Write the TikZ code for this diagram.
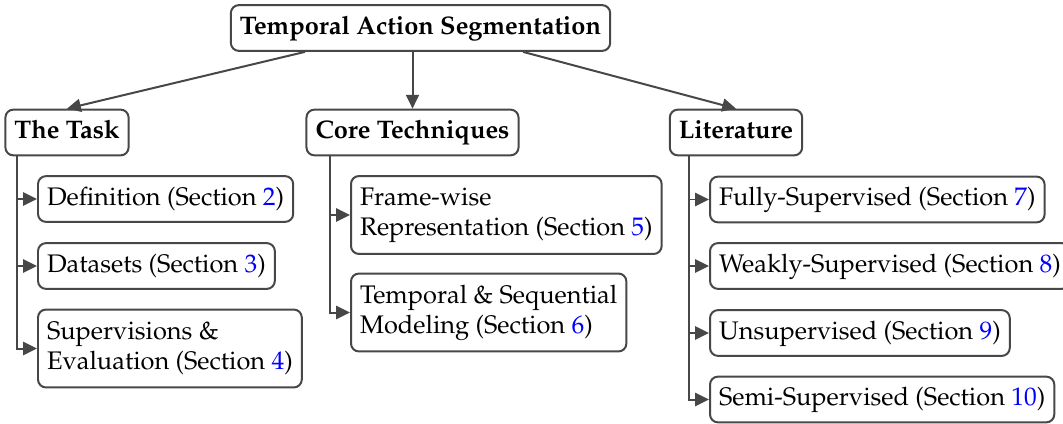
\documentclass[tikz,border=0pt]{standalone}
\usepackage[T1]{fontenc}
\usepackage{mathpazo}
\usetikzlibrary{arrows.meta,calc}
\definecolor{edgegray}{HTML}{474747}
\definecolor{secblue}{HTML}{0000FF}
\newcommand{\secref}[1]{(Section~\textcolor{secblue}{#1})}
\tikzset{
  base/.style={draw=edgegray, line width=0.75pt, rounded corners=3pt, fill=white,
    inner xsep=3.4pt, align=left, font=\fontsize{9.55}{11.3}\selectfont},
  one/.style={base, inner ysep=3.8pt, text height=7.1pt, text depth=2.5pt},
  two/.style={base, inner ysep=2pt, minimum height=29.3pt},
  head/.style={one, font=\fontsize{9.55}{11.3}\selectfont\bfseries},
  arr/.style={draw=edgegray, line width=0.75pt, -{Triangle[length=5.2pt,width=4.9pt]}},
}
\begin{document}
\begin{tikzpicture}[x=0.376pt, y=-0.376pt]
\useasboundingbox (0,0) rectangle (1063,424);

% top level and the three branches
\node[head] (root) at (420.5,28) {Temporal Action Segmentation};
\node[head] (task) at (67,132.5) {The Task};
\node[head] (core) at (412.5,132.5) {Core Techniques};
\node[head] (lit)  at (736,132.5) {Literature};

% The Task
\node[one, anchor=west] (def)  at (37,199)   {Definition \secref{2}};
\node[one, anchor=west] (data) at (37,266)   {Datasets \secref{3}};
\node[two, anchor=west] (sup)  at (37,348.5) {Supervisions \&\\Evaluation \secref{4}};

% Core Techniques
\node[two, anchor=west] (frame) at (350,215)   {Frame-wise\\Representation \secref{5}};
\node[two, anchor=west] (tseq)  at (350,312.5) {Temporal \& Sequential\\Modeling \secref{6}};

% Literature
\node[one, anchor=west] (fully)  at (709,199.5) {Fully-Supervised \secref{7}};
\node[one, anchor=west] (weakly) at (709,266)   {Weakly-Supervised \secref{8}};
\node[one, anchor=west] (unsup)  at (709,333)   {Unsupervised \secref{9}};
\node[one, anchor=west] (semi)   at (709,399.5) {Semi-Supervised \secref{10}};

% root to branches
\draw[arr] ($(root.south)+(-115.5,0)$) -- (task.north);
\draw[arr] (root.south -| core.north) -- (core.north);
\draw[arr] ($(root.south)+(102.5,0)$) -- (lit.north);

% trunks down the left side of each branch
\coordinate (tk) at ($(def.west)+(-20,0)$);
\coordinate (ck) at ($(frame.west)+(-20,0)$);
\coordinate (lk) at ($(fully.west)+(-20,0)$);
\foreach \c in {def,data,sup} \draw[arr] (tk |- task.south) |- (\c.west);
\foreach \c in {frame,tseq} \draw[arr] (ck |- core.south) |- (\c.west);
\foreach \c in {fully,weakly,unsup,semi} \draw[arr] (lk |- lit.south) |- (\c.west);
\end{tikzpicture}
\end{document}
